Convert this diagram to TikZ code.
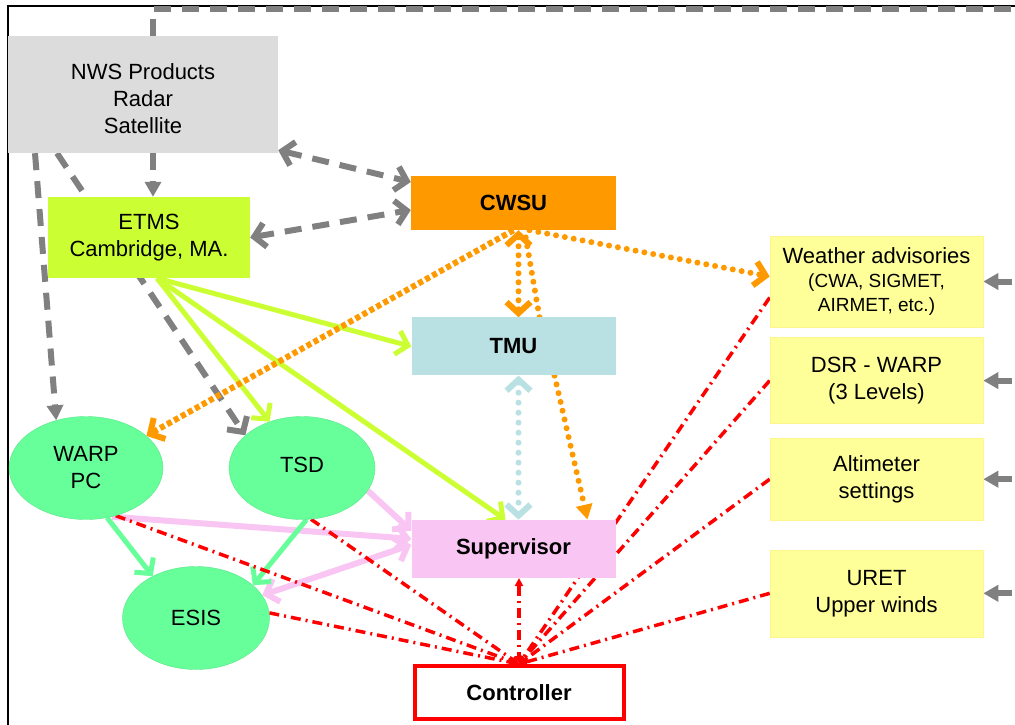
\documentclass[tikz,border=0pt]{standalone}
\usepackage{fontspec}
\setmainfont{Liberation Sans}
\usepackage{tikz}
\usetikzlibrary{arrows.meta, positioning, shapes.geometric, backgrounds}
\definecolor{colorNws}{HTML}{DCDCDC}
\definecolor{colorEtms}{HTML}{CCFF33}
\definecolor{colorCwsu}{HTML}{FF9900}
\definecolor{colorTmu}{HTML}{B9E0E3}
\definecolor{colorSupervisor}{HTML}{F9C6F4}
\definecolor{colorSite}{HTML}{66FF99}
\definecolor{colorProduct}{HTML}{FFFF99}
\definecolor{colorFeed}{HTML}{808080}
\definecolor{colorControl}{HTML}{FF0000}
\newcommand{\smallfont}{\fontsize{19}{24}\selectfont}
\tikzset{chev/.tip={Straight Barb[length=11pt, width=24pt]},
  tri/.tip={Triangle[length=15pt, width=16pt]},
  rtri/.tip={Triangle[length=8pt, width=8pt]}}

\begin{document}
\begin{tikzpicture}[x=1pt, y=-1pt,
  every node/.style={font=\fontsize{22}{27}\selectfont, align=center, inner sep=0pt},
  box/.style={rectangle, minimum width=204pt, minimum height=58pt},
  site/.style={ellipse, fill=colorSite, draw=colorSite!90!black, line width=0.4pt, minimum height=103pt},
  product/.style={rectangle, fill=colorProduct, draw=colorProduct!92!orange, line width=0.6pt, minimum width=213pt},
  feed/.style={draw=colorFeed, line width=6pt, dash pattern=on 17pt off 11pt},
  etmslink/.style={draw=colorEtms, line width=5pt},
  cwsudot/.style={draw=colorCwsu, line width=6pt, line cap=round, dash pattern=on 0pt off 9pt},
  cwsusquare/.style={draw=colorCwsu, line width=6pt, dash pattern=on 5pt off 3pt},
  tmudot/.style={draw=colorTmu, line width=6pt, line cap=round, dash pattern=on 0pt off 10pt},
  suplink/.style={draw=colorSupervisor, line width=6pt},
  sitelink/.style={draw=colorSite, line width=5pt},
  ctrllink/.style={draw=colorControl, line width=3.5pt, dash pattern=on 10pt off 5pt on 2pt off 5pt}]
\useasboundingbox (0,0) rectangle (1015,724);
\node[box, fill=colorNws, minimum width=270pt, minimum height=117pt] (nws) at (143,94.5) {\raisebox{-7pt}[\height][\depth]{\begin{tabular}{@{}c@{}}NWS Products\\Radar\\Satellite\end{tabular}}};
\node[box, fill=colorEtms, minimum width=202pt, minimum height=81pt] (etms) at (149,237.5) {ETMS\\Cambridge, MA.};
\node[box, fill=colorCwsu, minimum width=205pt, minimum height=54pt, font=\fontsize{22}{27}\selectfont\bfseries] (cwsu) at (513.5,203) {CWSU};
\node[box, fill=colorTmu, font=\fontsize{22}{27}\selectfont\bfseries, below=87pt of cwsu] (tmu) {TMU};
\node[box, fill=colorSupervisor, font=\fontsize{22}{27}\selectfont\bfseries, below=144pt of tmu] (sup) {Supervisor};
\node[box, fill=white, draw=colorControl, line width=4pt, minimum width=209pt, minimum height=53pt, font=\fontsize{22}{27}\selectfont\bfseries, below=86pt of sup, xshift=5.5pt] (ctrl) {Controller};
\node[product, minimum height=91pt, font=\smallfont] (wadv) at (876.5,281.5) {\fontsize{22}{24}\selectfont Weather advisories\\(CWA, SIGMET,\\AIRMET, etc.)};
\node[product, minimum height=86pt, below=10pt of wadv] (dsr) {DSR - WARP\\(3 Levels)};
\node[product, minimum height=82pt, below=14pt of dsr] (alt) {Altimeter\\settings};
\node[product, minimum height=87pt, below=29pt of alt] (uret) {URET\\Upper winds};
\node[site, minimum width=154pt] (warp) at (86,468) {WARP\\PC};
\node[site, minimum width=146pt] (tsd) at (302,468) {\raisebox{6pt}{TSD}};
\node[site, minimum width=147pt] (esis) at (196,618) {ESIS};
\coordinate (bus) at (1040,9);

\begin{pgfonlayer}{background}
\draw[line width=2.5pt] (8,740) |- (1040,6);
\draw [feed] ([xshift=10pt]nws.north) |- (bus) -- (bus |- uret.east);
\draw [feed, -tri] (bus |- wadv.east) -- (wadv.east);
\draw [feed, -tri] (bus |- dsr.east) -- (dsr.east);
\draw [feed, -tri] (bus |- alt.east) -- (alt.east);
\draw [feed, -tri] (bus |- uret.east) -- (uret.east);
\draw [feed, -tri] ([xshift=10pt]nws.south) -- ([xshift=4pt]etms.north);
\draw [feed, chev-chev] ([yshift=3pt]nws.south east) -- ([yshift=21pt]cwsu.west);
\draw [feed, chev-chev] (etms.east) -- ([yshift=-7pt]cwsu.west);
\draw [feed, -tri] ([xshift=-108pt]nws.south) -- (warp.122);
\draw [feed, -chev] ([xshift=-86pt]nws.south) -- (tsd.150);
\draw [etmslink, -chev] ([xshift=8pt]etms.south) -- (tmu.west);
\draw [etmslink, -chev] ([xshift=8pt]etms.south) -- (tsd.125);
\draw [etmslink, -chev] ([xshift=8pt]etms.south) -- ([xshift=-8pt]sup.north);
\draw [cwsusquare, -chev] (cwsu.south) -- (warp.28);
\draw [cwsudot, chev-chev] ([xshift=5pt]cwsu.south) -- ([xshift=5pt]tmu.north);
\draw [cwsudot] ([xshift=26pt]tmu.north) -- ([xshift=11pt]cwsu.south);
\draw [cwsudot, -chev] ([xshift=16pt]cwsu.south) -- ([yshift=5pt]wadv.west);
\draw [cwsudot, -tri] ([xshift=41pt]tmu.south) -- ([xshift=74pt]sup.north);
\draw [tmudot, chev-chev] ([xshift=5pt]tmu.south) -- ([xshift=5pt]sup.north);
\draw [suplink, -chev] (warp.-62) -- ([yshift=10pt]sup.west);
\draw [suplink, -chev] (tsd.-19) -- ([yshift=18pt]sup.west);
\draw [suplink, chev-chev] (esis.19) -- ([yshift=4pt]sup.west);
\draw [sitelink, -chev] (warp.-67) -- (esis.136);
\draw [sitelink, -chev] (tsd.-85) -- (esis.30);
\draw [ctrllink, -rtri] (warp.-58) -- (ctrl.north);
\draw [ctrllink, -rtri] (tsd.-80) -- (ctrl.north);
\draw [ctrllink, -rtri] (esis.4) -- (ctrl.north);
\draw [ctrllink, rtri-rtri] (ctrl.north |- sup.south) -- (ctrl.north);
\draw [ctrllink, -rtri] ([yshift=-16pt]wadv.west) -- (ctrl.north);
\draw [ctrllink, -rtri] (dsr.west) -- (ctrl.north);
\draw [ctrllink, -rtri] (alt.west) -- (ctrl.north);
\draw [ctrllink, -rtri] (uret.west) -- (ctrl.north);
\end{pgfonlayer}
\end{tikzpicture}
\end{document}
